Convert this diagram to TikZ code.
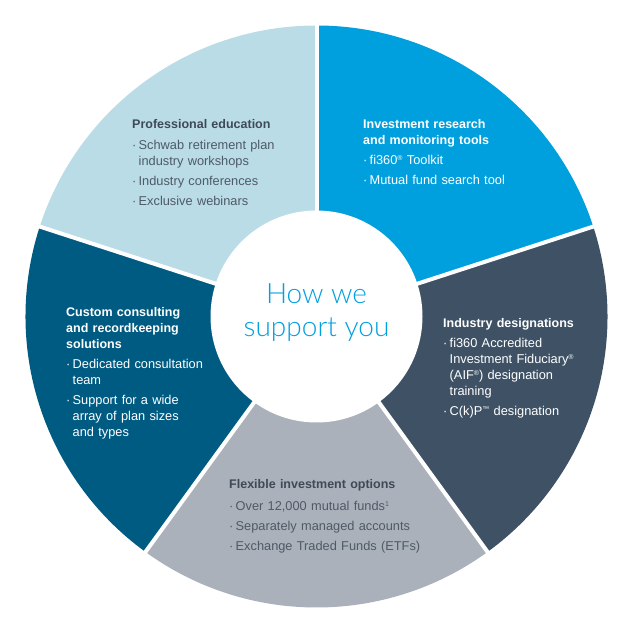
\documentclass[tikz,border=0pt]{standalone}
\usepackage{fontspec}
\setmainfont{Liberation Sans}
\IfFontExistsTF{Lato Light}{\newfontfamily\hubfont{Lato Light}}{\newfontfamily\hubfont{Liberation Sans}}
\usetikzlibrary{positioning}

\definecolor{segblue}{RGB}{0,160,223}
\definecolor{segslate}{RGB}{63,82,101}
\definecolor{seggray}{RGB}{170,177,186}
\definecolor{segteal}{RGB}{0,91,130}
\definecolor{seglight}{RGB}{186,220,230}
\definecolor{inkdark}{RGB}{62,74,87}
\definecolor{inkbody}{RGB}{78,90,102}

\newcommand{\bul}[1]{\makebox[6.5pt][l]{·}#1}
\newcommand{\cnt}[1]{\hspace*{6.5pt}#1}
\newcommand{\sups}[1]{\raisebox{4pt}{\fontsize{7}{7}\selectfont #1}}

\tikzset{
  blurb/.style={anchor=base west, inner sep=0pt, align=left, text width=200pt,
    font=\fontsize{12.8}{16}\selectfont},
  hubdisk/.style={circle, fill=white, minimum size=212pt, inner sep=0pt},
  hubtext/.style={align=center, text=segblue, inner sep=0pt,
    font=\hubfont\fontsize{28}{33}\selectfont}
}

\begin{document}
\begin{tikzpicture}[x=1pt, y=1pt]
  \useasboundingbox (0,0) rectangle (633,633);
  \coordinate (c) at (316.5,316.5);

  \fill[segblue] (c) -- ++(90:291) arc[start angle=90, end angle=18, radius=291] -- cycle;
  \fill[segslate] (c) -- ++(18:291) arc[start angle=18, end angle=-54, radius=291] -- cycle;
  \fill[seggray] (c) -- ++(-54:291) arc[start angle=-54, end angle=-126, radius=291] -- cycle;
  \fill[segteal] (c) -- ++(-126:291) arc[start angle=-126, end angle=-198, radius=291] -- cycle;
  \fill[seglight] (c) -- ++(162:291) arc[start angle=162, end angle=90, radius=291] -- cycle;
  \foreach \a in {90,18,-54,-126,162}
    \draw[white, line width=4pt] (c) -- ++(\a:300);

  \node[hubdisk] (hub) at (c) {};
  \node[hubtext] (hubtxt) at (316.5,320.5) {How we\\support you};

  \node[blurb, text=inkbody] (edu) at (132,504)
    {\textcolor{inkdark}{\fontsize{12.5}{16}\selectfont\textbf{Professional education}}\\[5pt]
     \bul{Schwab retirement plan}\\
     \cnt{industry workshops}\\[4pt]
     \bul{Industry conferences}\\[4pt]
     \bul{Exclusive webinars}};

  \node[blurb, text=white] (tools) at (363,504)
    {{\fontsize{12.5}{16}\selectfont\textbf{Investment research}}\\
     {\fontsize{12.5}{16}\selectfont\textbf{and monitoring tools}}\\[4pt]
     \bul{fi360\sups{®} Toolkit}\\[4pt]
     \bul{Mutual fund search tool}};

  \node[blurb, text=white] (desig) at (443,305)
    {{\fontsize{12.5}{16}\selectfont\textbf{Industry designations}}\\[4pt]
     \bul{fi360 Accredited}\\
     \cnt{Investment Fiduciary\sups{®}}\\
     \cnt{(AIF\sups{®}) designation}\\
     \cnt{training}\\[4pt]
     \bul{C(k)P\sups{™} designation}};

  \node[blurb, text=white] (custom) at (66,316)
    {{\fontsize{12.5}{16}\selectfont\textbf{Custom consulting}}\\
     {\fontsize{12.5}{16}\selectfont\textbf{and recordkeeping}}\\
     {\fontsize{12.5}{16}\selectfont\textbf{solutions}}\\[4pt]
     \bul{Dedicated consultation}\\
     \cnt{team}\\[4pt]
     \bul{Support for a wide}\\
     \cnt{array of plan sizes}\\
     \cnt{and types}};

  \node[blurb, text=inkbody] (options) at (229,144)
    {\textcolor{inkdark}{\fontsize{12.5}{16}\selectfont\textbf{Flexible investment options}}\\[6pt]
     \bul{Over 12,000 mutual funds\sups{1}}\\[4pt]
     \bul{Separately managed accounts}\\[4pt]
     \bul{Exchange Traded Funds (ETFs)}};
\end{tikzpicture}
\end{document}
